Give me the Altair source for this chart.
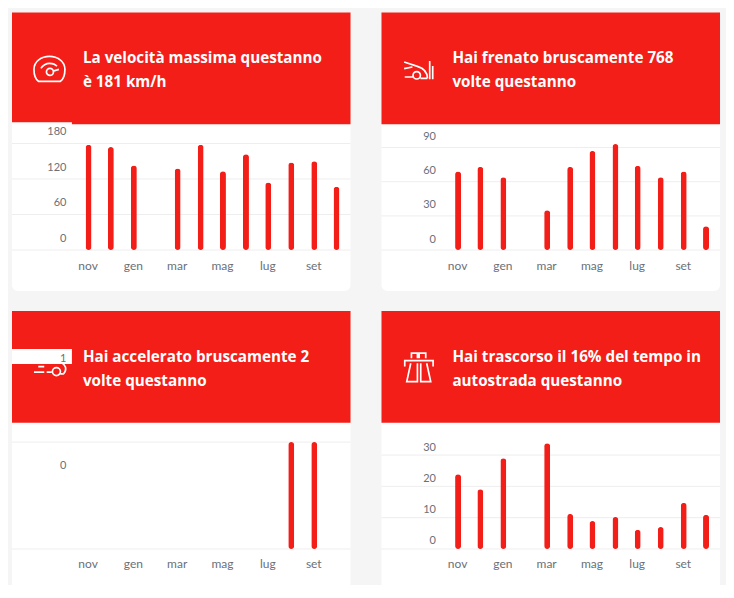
import altair as alt
import pandas as pd

months = ["2022-11-01T00:00:00", "2022-12-01T00:00:00", "2023-01-01T00:00:00", "2023-02-01T00:00:00",
          "2023-03-01T00:00:00", "2023-04-01T00:00:00", "2023-05-01T00:00:00", "2023-06-01T00:00:00",
          "2023-07-01T00:00:00", "2023-08-01T00:00:00", "2023-09-01T00:00:00", "2023-10-01T00:00:00"]
speed = [178, 174, 143, None, 138, 178, 133, 162, 114, 148, 150, 107]
brake = [69, 73, 64, None, 35, 73, 87, 93, 74, 64, 69, 21]
accel = [None, None, None, None, None, None, None, None, None, 1, 1, None]
highway = [23.9, 19.1, 29.0, None, 33.8, 11.2, 8.9, 10.2, 6.1, 7.0, 14.7, 10.9]

speed_ticks = [0, 60, 120, 180]
brake_ticks = [0, 30, 60, 90]
accel_ticks = [0, 1]
highway_ticks = [0, 10, 20, 30]

title_speed = ["La velocità massima questanno", "è 181 km/h"]
title_brake = ["Hai frenato bruscamente 768", "volte questanno"]
title_accel = ["Hai accelerato bruscamente 2", "volte questanno"]
title_highway = ["Hai trascorso il 16% del tempo in", "autostrada questanno"]

icon_speed = ("M-11,12 H11 C14,10 15.5,5 15.5,0 C15.5,-8 8,-13 0,-13 C-8,-13 -15.5,-8 -15.5,0 "
              "C-15.5,5 -14,10 -11,12 Z M4,2.6 A3.5,3.5 0 1 1 -3,2.6 A3.5,3.5 0 1 1 4,2.6 "
              "M3.8,1.8 L9.5,0 M-8.5,-1 C-7,-4 -3,-6 0,-6 C3,-6 6,-5 7.5,-3")
icon_brake = ("M-14.3,-8.3 L-1,-4 C4,-2.5 9,1 9,8 M-14.3,-1.7 L-6,-3.3 M-13.7,6.7 H-5 "
              "M2,5 A3.7,3.7 0 1 1 -5.4,5 A3.7,3.7 0 1 1 2,5 M2,8 H9 M11.3,-9.3 V9 M14.3,-4.3 V9")
icon_accel = ("M-11.2,-2.3 H-5.2 M-15.5,3.3 H-5.2 M-2.8,3.3 H2.2 "
              "M11,2.7 A4,4 0 1 1 3,2.7 A4,4 0 1 1 11,2.7 "
              "M11,5 H14 C16,3 16.5,0 16,-2 C15,-5 10,-8 6,-9")
icon_highway = ("M-7,-10.7 V-15.7 H-1 V-10.7 M0.7,-10.7 V-15.7 H7.3 V-10.7 "
                "M-13.7,-2.3 V-8.3 H14.7 V-2.3 M-7.7,-5.7 L-11.7,12.7 H-1 V-5.7 "
                "M2.3,-5.7 V12.7 H12.3 L8.3,-5.7")

RED = "#f21e17"
GRID = "#eeeeee"
TEXT = "#6b7078"
FONT = "Lato"
TITLE_FONT = "Open Sans"
W, H = 339, 279
one = pd.DataFrame({"a": [0]})


def panel(values, ticks, title, icon, icon_xy, y_range, label_shift, strip=None):
    frame = pd.DataFrame({"month": months, "value": values}).dropna()
    y_scale = alt.Scale(domain=[ticks[0], ticks[-1]], range=y_range, nice=False, zero=False)
    x_scale = alt.Scale(
        domain=[alt.DateTime(year=2022, month=11, date=1), alt.DateTime(year=2023, month=10, date=1)],
        range=[76.7, 325], nice=False, padding=0)
    y_axis = alt.Axis(
        values=ticks, format="d", domain=False, ticks=False, grid=False, offset=-54, labelPadding=0,
        labelOverlap=False, labelFont=FONT, labelFontSize=11, labelColor=TEXT, labelOffset=label_shift,
        labelBaseline="middle", labelFlush=False, zindex=1)

    grid = alt.Chart(pd.DataFrame({"value": ticks})).mark_rule(color=GRID, strokeWidth=1).encode(
        y=alt.Y("value:Q", scale=y_scale, axis=y_axis, title=None), x=alt.value(0), x2=alt.value(W))
    header = alt.Chart(one).mark_rect(color=RED).encode(
        x=alt.value(0), x2=alt.value(W), y=alt.value(0), y2=alt.value(112))
    glyph = alt.Chart(one).mark_point(
        shape=icon, size=4, filled=False, stroke="white", strokeWidth=1.7, opacity=1
    ).encode(x=alt.value(icon_xy[0]), y=alt.value(icon_xy[1]))
    heading = alt.Chart(one).mark_text(
        text=title, lineHeight=24, align="left", baseline="top", font=TITLE_FONT, fontWeight="bold",
        fontSize=15.25, color="white"
    ).encode(x=alt.value(71), y=alt.value(39))
    bars = alt.Chart(frame).mark_bar(color=RED, size=6, cornerRadius=3).encode(
        x=alt.X("month:T", scale=x_scale, title=None, axis=alt.Axis(
            values=[alt.DateTime(year=2022, month=11, date=1), alt.DateTime(year=2023, month=1, date=1),
                    alt.DateTime(year=2023, month=3, date=1), alt.DateTime(year=2023, month=5, date=1),
                    alt.DateTime(year=2023, month=7, date=1), alt.DateTime(year=2023, month=9, date=1)],
            labelExpr="['gen','feb','mar','apr','mag','giu','lug','ago','set','ott','nov','dic'][month(datum.value)]",
            domain=False, ticks=False, grid=False, offset=-26, labelPadding=0, labelOverlap=False,
            labelFlush=False, labelFont=FONT, labelFontSize=12, labelColor=TEXT, labelOffset=-1,
            labelBaseline="middle", zindex=1)),
        y=alt.Y("value:Q", scale=y_scale, title=None, axis=y_axis),
    )
    layers = [grid, header, glyph]
    if strip is not None:
        layers.append(alt.Chart(one).mark_rect(color="white").encode(
            x=alt.value(0), x2=alt.value(60), y=alt.value(strip), y2=alt.value(strip + 15)))
    layers += [heading, bars]
    return alt.layer(*layers).properties(
        width=W, height=H, view=alt.ViewBackground(fill="white", cornerRadius=6, stroke=None))


p1 = panel(speed, speed_ticks, title_speed, icon_speed, (37.5, 57), [238, 131.3], -12, strip=110)
p2 = panel(brake, brake_ticks, title_brake, icon_brake, (37, 58), [238, 135.3], -11)
p3 = panel(accel, accel_ticks, title_accel, icon_accel, (37.5, 58), [238.3, 131.3], -84, strip=38)
p4 = panel(highway, highway_ticks, title_highway, icon_highway, (37, 58), [238.3, 144.3], -8)

chart = alt.concat(p1, p2, p3, p4, columns=2, spacing={"row": 20, "column": 29}).properties(
    background="#f5f5f5",
    padding={"left": 3, "top": 4, "right": 5, "bottom": -5},
).configure_view(stroke=None)

chart.save("out.html", embed_options={"renderer": "svg", "actions": False})
